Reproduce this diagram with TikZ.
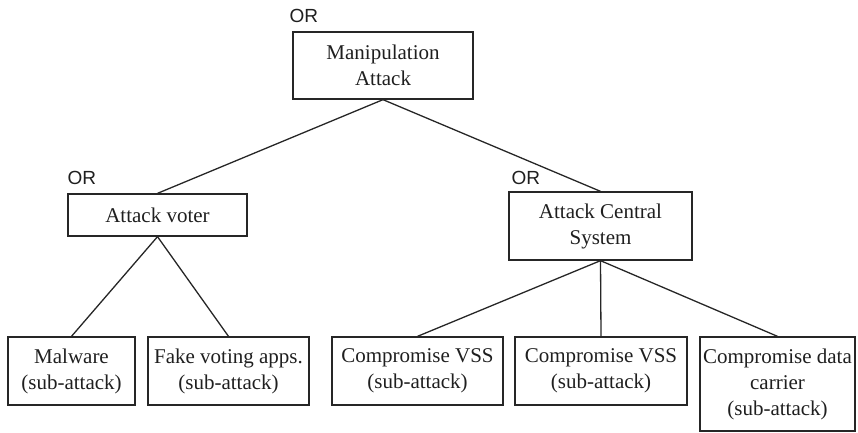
\documentclass[tikz,border=0pt]{standalone}
\usepackage{fontspec}
\setmainfont{Liberation Serif}
\newfontfamily\orfont{Liberation Sans}
\tikzset{
  box/.style={draw=black!85, line width=1.3pt, inner sep=0pt, align=center,
    text=black!88, font=\fontsize{21}{26}\selectfont},
  orlabel/.style={inner sep=0pt, anchor=base west, text=black!88,
    font=\orfont\fontsize{19}{22}\selectfont},
  link/.style={draw=black!85, line width=1.3pt}
}
\begin{document}
\begin{tikzpicture}[x=1pt,y=-1pt]
  \useasboundingbox (0,0) rectangle (858,432);

  % root goal
  \node[box, minimum width=180pt, minimum height=67pt] (top) at (383,65.5) {Manipulation\\Attack};

  % intermediate goals
  \node[box, minimum width=179pt, minimum height=42pt] (voter) at (157.5,215) {Attack voter};
  \node[box, minimum width=183pt, minimum height=68pt] (central) at (600.5,226) {Attack Central\\System};

  % leaf sub-attacks
  \node[box, minimum width=127pt, minimum height=68pt] (malware) at (71.5,371) {Malware\\(sub-attack)};
  \node[box, minimum width=161pt, minimum height=68pt] (fake) at (228.5,371) {Fake voting apps.\\(sub-attack)};
  \node[box, minimum width=171pt, minimum height=68pt] (vss1) at (417.5,371) {Compromise VSS\\(sub-attack)};
  \node[box, minimum width=172pt, minimum height=68pt] (vss2) at (601,371) {Compromise VSS\\(sub-attack)};
  \node[box, minimum width=155pt, minimum height=94pt] (carrier) at (777.5,384) {Compromise data\\carrier\\(sub-attack)};

  % gate labels
  \node[orlabel] (orTop) at ([xshift=-3pt,yshift=9pt]top.north west) {OR};
  \node[orlabel] (orVoter) at ([yshift=9pt]voter.north west) {OR};
  \node[orlabel] (orCentral) at ([xshift=3pt,yshift=7pt]central.north west) {OR};

  % tree edges
  \draw[link] (top.south) -- (voter.north);
  \draw[link] (top.south) -- (central.north);
  \draw[link] (voter.south) -- (malware.north);
  \draw[link] (voter.south) -- (fake.north);
  \draw[link] (central.south) -- (vss1.north);
  \draw[link] (central.south) -- (vss2.north);
  \draw[link] (central.south) -- (carrier.north);
\end{tikzpicture}
\end{document}
